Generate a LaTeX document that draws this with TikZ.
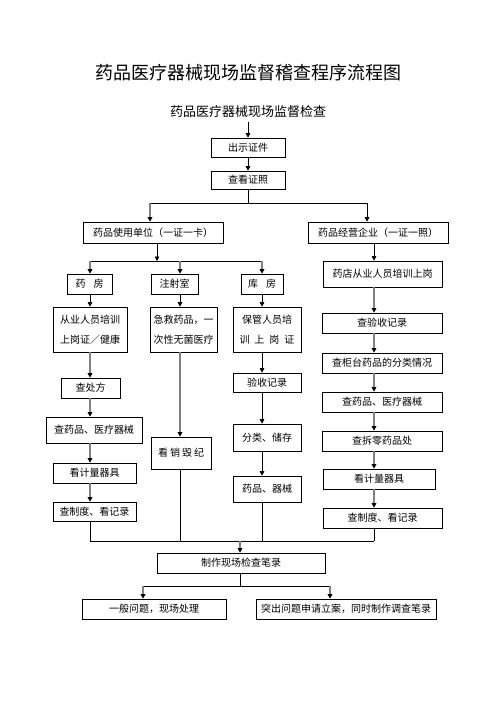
\documentclass[tikz,border=0pt]{standalone}
\usepackage{fontspec}
\setmainfont{Noto Sans CJK SC}
\usetikzlibrary{arrows.meta}
\begin{document}
\begin{tikzpicture}[x=1pt,y=-1pt,
 box/.style={draw, line width=0.6pt, inner sep=0pt, align=center, font=\fontsize{10}{12}\selectfont},
 twobox/.style={box, font=\fontsize{10}{20}\selectfont},
 ln/.style={line width=0.7pt},
 arr/.style={ln, -{Triangle[length=4.5pt,width=4.5pt]}},
 gln/.style={line width=1.4pt, draw=black!50},
 garr/.style={gln, -{Triangle[length=4.5pt,width=4.5pt,color=black]}}]
\useasboundingbox[fill=white] (0,0) rectangle (496,702);

\node[font=\fontsize{18}{20}\selectfont] (title) at (248,73) {药品医疗器械现场监督稽查程序流程图};
\node[font=\fontsize{13}{15}\selectfont] (sub) at (248,112) {药品医疗器械现场监督检查};

\node[box, minimum width=74pt, minimum height=19pt] (n1) at (248,147.5) {出示证件};
\node[box, minimum width=74pt, minimum height=18pt] (n2) at (248,180) {查看证照};
\node[box, minimum width=140pt, minimum height=21pt] (uL) at (153,232.5) {药品使用单位（一证一卡）};
\node[box, minimum width=140pt, minimum height=21pt] (uR) at (378,232.5) {药品经营企业（一证一照）};

\node[box, minimum width=45pt, minimum height=20pt] (fang) at (89.5,284) {药\hspace{8pt}房};
\node[box, minimum width=47pt, minimum height=20pt] (zhu) at (174.5,284) {注射室};
\node[box, minimum width=42pt, minimum height=20pt] (ku) at (262,284) {库\hspace{8pt}房};
\node[box, minimum width=119pt, minimum height=26pt] (rs) at (382.5,274) {药店从业人员培训上岗};

\node[twobox, minimum width=74pt, minimum height=45pt] (a1) at (90,329.5) {从业人员培训\\上岗证／健康};
\node[twobox, minimum width=67pt, minimum height=45pt] (b1) at (183.5,329.5) {急救药品，一\\次性无菌医疗};
\node[twobox, minimum width=68pt, minimum height=45pt] (c1) at (267,329.5) {保管人员培\\训\hspace{5pt}上\hspace{5pt}岗\hspace{5pt}证};

\node[box, minimum width=59pt, minimum height=20pt] (a2) at (90.5,388) {查处方};
\node[box, minimum width=96pt, minimum height=26pt] (a3) at (94,430) {查药品、医疗器械};
\node[box, minimum width=83pt, minimum height=20pt] (a4) at (94.5,473) {看计量器具};
\node[box, minimum width=83pt, minimum height=19pt] (a5) at (94.5,511.5) {查制度、看记录};

\node[box, minimum width=60pt, minimum height=32pt] (b2) at (181,453) {看\hspace{2pt}销\hspace{2pt}毁\hspace{2pt}纪};

\node[box, minimum width=68pt, minimum height=19pt] (c2) at (267,382.5) {验收记录};
\node[box, minimum width=68pt, minimum height=27pt] (c3) at (267,437.5) {分类、储存};
\node[box, minimum width=68pt, minimum height=26pt] (c4) at (267,489) {药品、器械};

\node[box, minimum width=120pt, minimum height=20pt] (r1) at (382,323) {查验收记录};
\node[box, minimum width=120pt, minimum height=20pt] (r2) at (382,363) {查柜台药品的分类情况};
\node[box, minimum width=120pt, minimum height=20pt] (r3) at (382,402) {查药品、医疗器械};
\node[box, minimum width=120pt, minimum height=20pt] (r4) at (382,441) {查拆零药品处};
\node[box, minimum width=112pt, minimum height=20pt] (r5) at (379,479) {看计量器具};
\node[box, minimum width=119pt, minimum height=20pt] (r6) at (382.5,518) {查制度、看记录};

\node[box, minimum width=168pt, minimum height=20pt] (m) at (241,563) {制作现场检查笔录};
\node[box, minimum width=144pt, minimum height=20pt] (f1) at (154,609) {一般问题，现场处理};
\node[box, minimum width=180pt, minimum height=20pt] (f2) at (346,609) {突出问题申请立案，同时制作调查笔录};

% top
\draw[arr] (sub.south) -- (n1.north);
\draw[arr] (n1) -- (n2);
\coordinate (j1) at (248,203);
\coordinate (j1L) at (150,203);
\coordinate (j1R) at (367,203);
\draw[ln] (n2.south) -- (j1);
\draw[ln] (j1L) -- (j1R);
\draw[garr] (j1L) -- (j1L |- uL.north);
\draw[arr] (j1R) -- (j1R |- uR.north);

% left branch
\coordinate (j2) at (157,261);
\coordinate (j2L) at (90,261);
\coordinate (j2M) at (180,261);
\coordinate (j2R) at (262,261);
\draw[arr] (uL.south -| j2) -- (j2);
\draw[ln] (j2L) -- (j2R);
\draw[garr] (j2L) -- (j2L |- fang.north);
\draw[garr] (j2M) -- (j2M |- zhu.north);
\draw[garr] (j2R) -- (j2R |- ku.north);

\draw[arr] (j2L |- fang.south) -- (j2L |- a1.north);
\draw[arr] (j2M |- zhu.south) -- (j2M |- b1.north);
\draw[arr] (j2R |- ku.south) -- (j2R |- c1.north);

\draw[garr] (j2L |- a1.south) -- (j2L |- a2.north);
\draw[garr] (j2L |- a2.south) -- (j2L |- a3.north);
\draw[garr] (j2L |- a3.south) -- (j2L |- a4.north);
\draw[garr] (j2L |- a4.south) -- (j2L |- a5.north);

\draw[garr] (j2M |- b1.south) -- (j2M |- b2.north);

\draw[arr] (j2R |- c1.south) -- (j2R |- c2.north);
\draw[arr] (j2R |- c2.south) -- (j2R |- c3.north);
\draw[arr] (j2R |- c3.south) -- (j2R |- c4.north);

% right branch
\coordinate (cR) at (374,300);
\draw[arr] (cR |- uR.south) -- (cR |- rs.north);
\draw[garr] (cR |- rs.south) -- (cR |- r1.north);
\draw[garr] (cR |- r1.south) -- (cR |- r2.north);
\draw[garr] (cR |- r2.south) -- (cR |- r3.north);
\draw[garr] (cR |- r3.south) -- (cR |- r4.north);
\draw[garr] (cR |- r4.south) -- (cR |- r5.north);
\draw[garr] (cR |- r5.south) -- (cR |- r6.north);

% merge
\coordinate (mL) at (90,541);
\coordinate (mR) at (374,541);
\coordinate (mC) at (240,541);
\draw[ln] (j2L |- a5.south) -- (mL);
\draw[ln] (j2M |- b2.south) -- (j2M |- mL);
\draw[ln] (j2R |- c4.south) -- (j2R |- mL);
\draw[ln] (mR |- r6.south) -- (mR);
\draw[ln] (mL) -- (mR);
\draw[garr] (mC) -- (mC |- m.north);

% bottom
\coordinate (k) at (240,586);
\coordinate (kL) at (143,586);
\coordinate (kR) at (330,586);
\draw[ln] (m.south -| k) -- (k);
\draw[ln] (kL) -- (kR);
\draw[garr] (kL) -- (kL |- f1.north);
\draw[garr] (kR) -- (kR |- f2.north);
\end{tikzpicture}
\end{document}
